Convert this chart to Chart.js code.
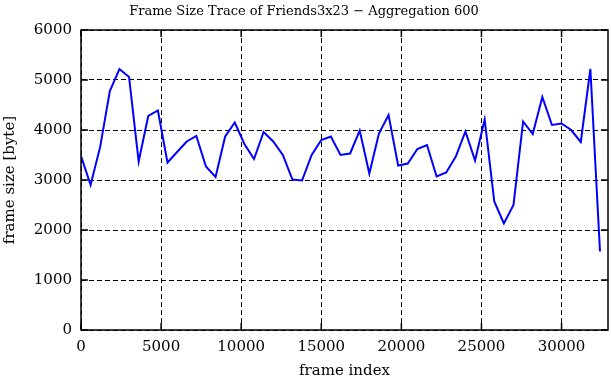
<!DOCTYPE html>
<html>
<head>
<meta charset="utf-8">
<script src="https://cdn.jsdelivr.net/npm/chart.js@4/dist/chart.umd.min.js"></script>
<style>
  html, body { margin: 0; padding: 0; background: #fff; }
  #wrap { width: 611px; height: 380px; }
</style>
</head>
<body>
<div id="wrap"><canvas id="traceChart"></canvas></div>
<script>
const chartTitle = "Frame Size Trace of Friends3x23 \u2212 Aggregation 600";
const xTitle = "frame index";
const yTitle = "frame size [byte]";

// frame index of each aggregated sample
const frames = [
    0, 600, 1200, 1800, 2400, 3000, 3600, 4200, 4800, 5400,
    6000, 6600, 7200, 7800, 8400, 9000, 9600, 10200, 10800, 11400,
    12000, 12600, 13200, 13800, 14400, 15000, 15600, 16200, 16800, 17400,
    18000, 18600, 19200, 19800, 20400, 21000, 21600, 22200, 22800, 23400,
    24000, 24600, 25200, 25800, 26400, 27000, 27600, 28200, 28800, 29400,
    30000, 30600, 31200, 31800, 32400
];

// mean frame size per 600 frames (bytes)
const frameSizes = [
    3480, 2900, 3667, 4780, 5220, 5060, 3370, 4280, 4390, 3350,
    3560, 3770, 3880, 3270, 3060, 3870, 4150, 3720, 3420, 3960,
    3770, 3500, 3010, 2990, 3500, 3800, 3870, 3500, 3530, 3990,
    3130, 3930, 4300, 3290, 3330, 3620, 3700, 3070, 3150, 3470,
    3970, 3390, 4210, 2570, 2130, 2500, 4170, 3920, 4660, 4100,
    4130, 4000, 3760, 5220, 1570
];

const xTicks = [0, 5000, 10000, 15000, 20000, 25000, 30000];
const yTicks = [0, 1000, 2000, 3000, 4000, 5000, 6000];

const points = frames.map((f, i) => ({ x: f, y: frameSizes[i] }));

// gnuplot style box with inward ticks on all four sides
const framePlugin = {
    id: 'frameBox',
    afterDraw(chart) {
        const { ctx, chartArea: a, scales } = chart;
        const len = 7;
        ctx.save();
        ctx.strokeStyle = '#000';
        ctx.lineWidth = 1.5;
        ctx.setLineDash([]);
        ctx.strokeRect(a.left, a.top, a.right - a.left, a.bottom - a.top);
        ctx.beginPath();
        xTicks.forEach(v => {
            const px = scales.x.getPixelForValue(v);
            ctx.moveTo(px, a.bottom); ctx.lineTo(px, a.bottom - len);
            ctx.moveTo(px, a.top); ctx.lineTo(px, a.top + len);
        });
        yTicks.forEach(v => {
            const py = scales.y.getPixelForValue(v);
            ctx.moveTo(a.left, py); ctx.lineTo(a.left + len, py);
            ctx.moveTo(a.right, py); ctx.lineTo(a.right - len, py);
        });
        ctx.stroke();
        ctx.restore();
    }
};

const serif = 'DejaVu Serif';
const plainNumber = v => String(v);

const chartConfig = {
    type: 'line',
    data: {
        datasets: [{
            label: 'frame size',
            data: points,
            borderColor: '#0000ff',
            borderWidth: 2,
            pointRadius: 0,
            tension: 0,
            fill: false
        }]
    },
    options: {
        responsive: true,
        maintainAspectRatio: false,
        animation: false,
        layout: { padding: { left: 0, right: 3, top: 0, bottom: 0 } },
        plugins: {
            legend: { display: false },
            tooltip: { enabled: false },
            title: {
                display: true,
                text: chartTitle,
                color: '#000',
                font: { family: serif, size: 13, weight: 'normal' },
                padding: { top: 4, bottom: 10.4 }
            }
        },
        scales: {
            x: {
                type: 'linear',
                min: 0,
                max: 32900,
                afterFit: s => { s.height = 50; },
                afterBuildTicks: s => { s.ticks = xTicks.map(v => ({ value: v })); },
                grid: { color: '#000', lineWidth: 1, drawTicks: false },
                border: { display: false, dash: [5, 3] },
                ticks: {
                    color: '#000',
                    padding: 8,
                    maxRotation: 0,
                    callback: plainNumber,
                    font: { family: serif, size: 15 }
                },
                title: {
                    display: true,
                    text: xTitle,
                    color: '#000',
                    font: { family: serif, size: 15 },
                    padding: { top: 0, bottom: 0 }
                }
            },
            y: {
                type: 'linear',
                min: 0,
                max: 6000,
                afterFit: s => { s.width = 81; },
                afterBuildTicks: s => { s.ticks = yTicks.map(v => ({ value: v })); },
                grid: { color: '#000', lineWidth: 1, drawTicks: false },
                border: { display: false, dash: [5, 3] },
                ticks: {
                    color: '#000',
                    padding: 9,
                    callback: plainNumber,
                    font: { family: serif, size: 15 }
                },
                title: {
                    display: true,
                    text: yTitle,
                    color: '#000',
                    font: { family: serif, size: 15 },
                    padding: { top: 1, bottom: 0 }
                }
            }
        }
    },
    plugins: [framePlugin]
};

window.onload = () => {
    const el = document.getElementById('traceChart');
    if (el) {
        new Chart(el.getContext('2d'), chartConfig);
    }
};
</script>
</body>
</html>
